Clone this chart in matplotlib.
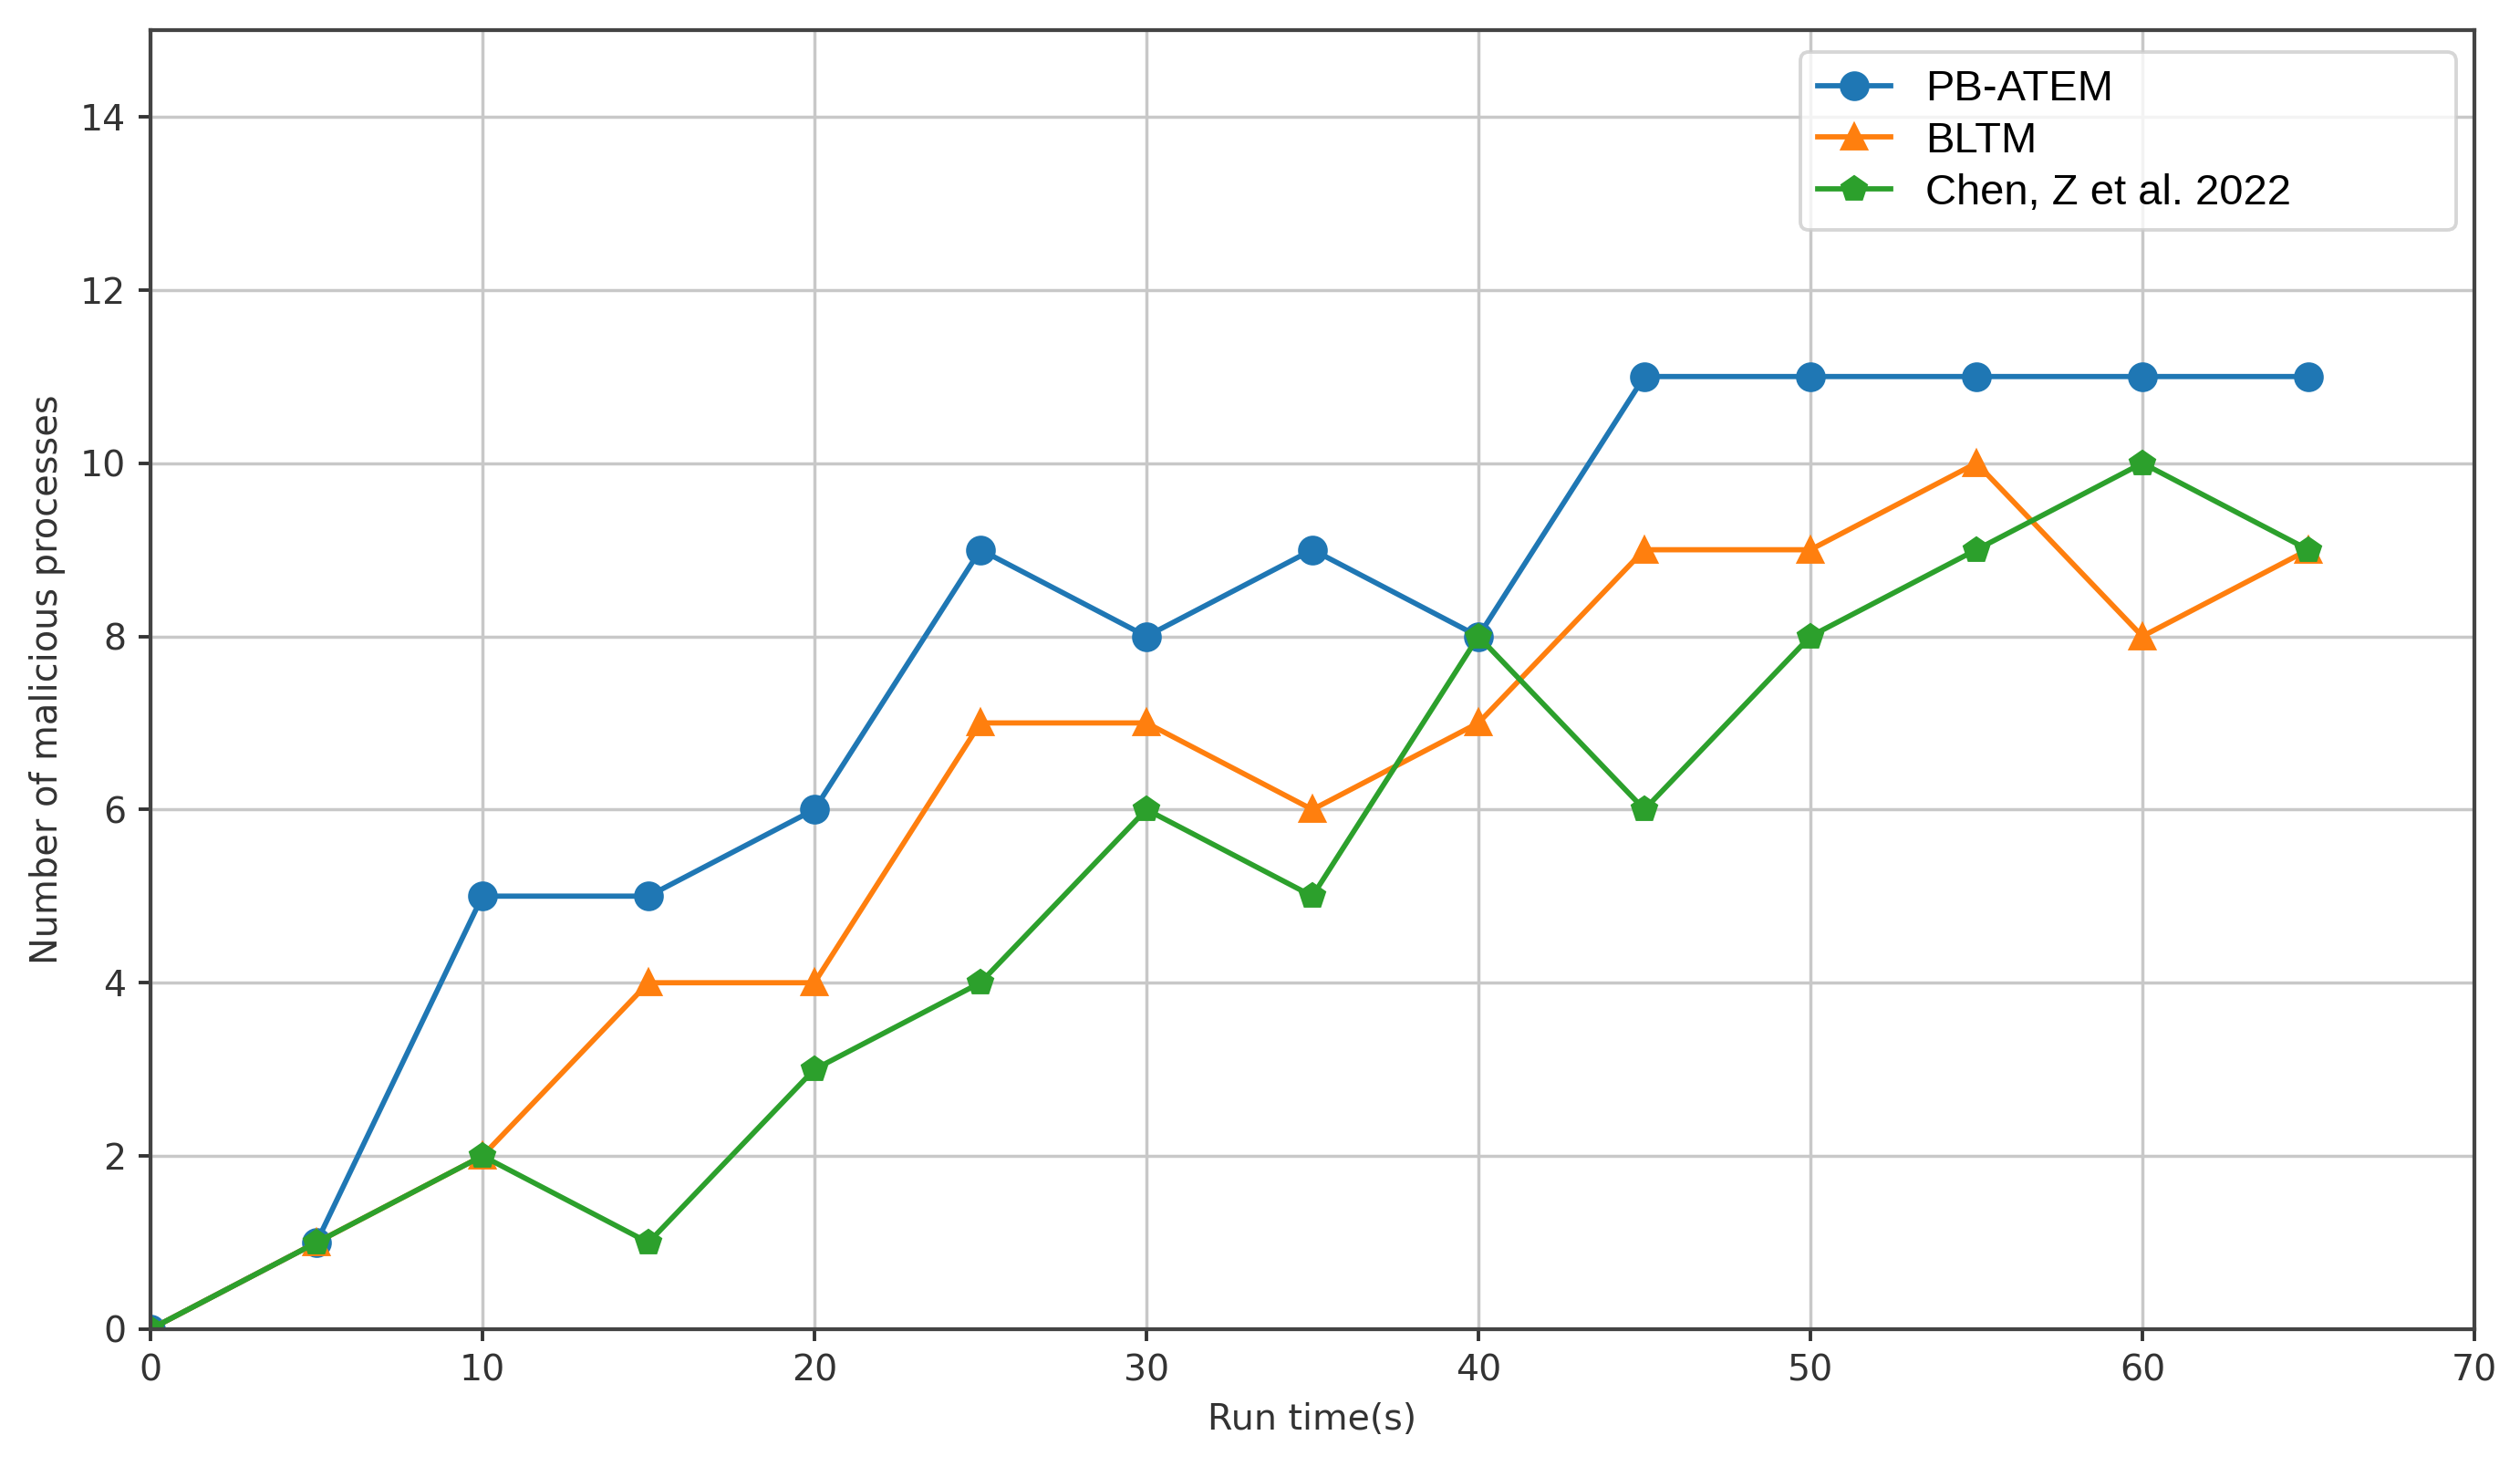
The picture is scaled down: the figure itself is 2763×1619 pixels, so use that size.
import numpy as np
import matplotlib.pyplot as plt

# data
run_time = [0, 5, 10, 15, 20, 25, 30, 35, 40, 45, 50, 55, 60, 65]
pb_atem = [0, 1, 5, 5, 6, 9, 8, 9, 8, 11, 11, 11, 11, 11]
bltm = [0, 1, 2, 4, 4, 7, 7, 6, 7, 9, 9, 10, 8, 9]
chen = [0, 1, 2, 1, 3, 4, 6, 5, 8, 6, 8, 9, 10, 9]
labels = ['PB-ATEM', 'BLTM', 'Chen, Z et al. 2022']

plt.rcParams['font.family'] = 'DejaVu Sans'

fig = plt.figure(figsize=(10, 1619 / 276.3), dpi=276.3)
ax = fig.add_axes([0.0597, 0.1001, 0.9222, 0.8795])

ax.plot(run_time, pb_atem, color='#1f77b4', marker='o', markersize=7.5, linewidth=1.5, label=labels[0])
ax.plot(run_time, bltm, color='#ff7f0e', marker='^', markersize=7, linewidth=1.5, label=labels[1])
ax.plot(run_time, chen, color='#2ca02c', marker='p', markersize=7, linewidth=1.5, label=labels[2])

ax.set_xlim(0, 70)
ax.set_ylim(0, 15)
ax.set_xticks(np.arange(0, 71, 10))
ax.set_yticks(np.arange(0, 15, 2))
ax.tick_params(labelsize=10.3, colors='#333333', width=1.0, length=3.5)
for s in ax.spines.values():
    s.set_color('#444444')
    s.set_linewidth(1.1)
ax.grid(True, color='#c8c8c8', linewidth=0.9)

ax.set_xlabel('Run time(s)', fontsize=10.3, color='#333333')
ax.set_ylabel('Number of malicious processes', fontsize=10.4, color='#333333')

# legend box is wider than its text in the original
leg = ax.legend(loc='upper left', bbox_to_anchor=(0.710, 0.5, 0.282, 0.483), mode='expand',
                borderaxespad=0, prop={'family': 'Liberation Sans', 'size': 12.3},
                labelspacing=0.27, handlelength=1.7, framealpha=0.8, edgecolor='#cccccc')

fig.savefig('out.png', dpi=276.3)
